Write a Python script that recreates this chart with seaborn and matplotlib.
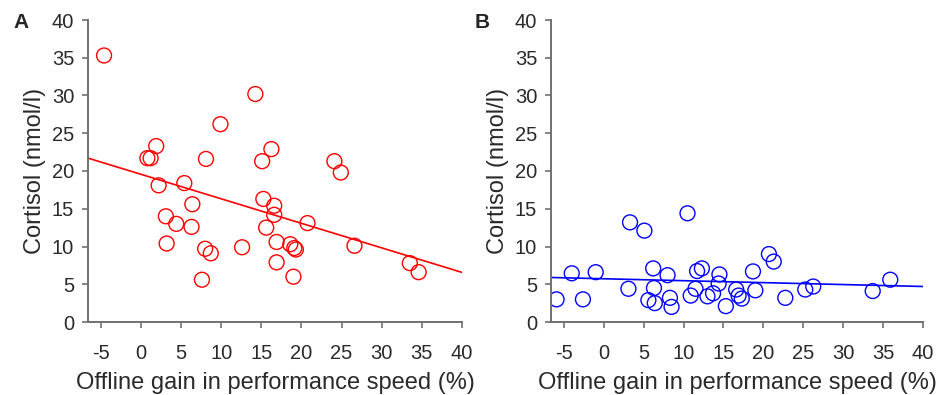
"""
Cortisol vs offline gain in performance speed, two panels (A red, B blue).
"""

import matplotlib
matplotlib.use('Agg')
import matplotlib.pyplot as plt
import numpy as np
import seaborn as sns

# Panel A values (offline gain %, cortisol nmol/l)
gain_a = [-4.6, 0.8, 1.2, 1.9, 2.2, 3.1, 3.2, 4.4, 5.4, 6.4, 6.3, 7.6,
          8.0, 8.1, 8.7, 9.9, 12.6, 14.25, 15.1, 15.25, 15.6, 16.25, 16.6, 16.6,
          16.9, 16.9, 18.6, 19.0, 19.1, 19.3, 20.75, 24.1, 24.9, 26.6, 33.5, 34.6]
cortisol_a = [35.3, 21.7, 21.7, 23.3, 18.1, 14.0, 10.4, 13.0, 18.4, 15.6, 12.6, 5.6,
              9.7, 21.6, 9.1, 26.2, 9.9, 30.2, 21.3, 16.3, 12.5, 22.9, 15.4, 14.2,
              10.6, 7.9, 10.3, 6.0, 9.8, 9.6, 13.1, 21.3, 19.8, 10.1, 7.8, 6.6]

# Panel B values
gain_b = [-5.9, -4.0, -2.6, -1.0, 3.1, 3.3, 5.1, 5.6, 6.2, 6.3, 6.4, 8.0,
          8.3, 8.5, 10.5, 10.9, 11.5, 11.7, 12.3, 13.0, 13.7, 14.4, 14.5, 15.3,
          16.6, 16.9, 17.3, 18.7, 19.0, 20.7, 21.3, 22.75, 25.25, 26.25, 33.7, 35.9]
cortisol_b = [3.0, 6.45, 3.0, 6.6, 4.4, 13.2, 12.1, 2.9, 7.1, 4.5, 2.5, 6.2,
              3.2, 2.0, 14.4, 3.5, 4.4, 6.75, 7.1, 3.4, 3.8, 5.1, 6.3, 2.1,
              4.3, 3.5, 3.1, 6.7, 4.2, 9.0, 8.0, 3.2, 4.3, 4.7, 4.1, 5.6]

x_ticks = [-5, 0, 5, 10, 15, 20, 25, 30, 35, 40]
y_ticks = [0, 5, 10, 15, 20, 25, 30, 35, 40]

sns.set_style('white')
plt.rcParams['font.family'] = ['Liberation Sans', 'DejaVu Sans']

fig = plt.figure(figsize=(9.38, 3.95), dpi=100)
ax_a = fig.add_axes([88 / 938, 73 / 395, 374 / 938, 302 / 395])
ax_b = fig.add_axes([551 / 938, 73 / 395, 372 / 938, 302 / 395])

panels = [
    (ax_a, gain_a, cortisol_a, '#ff0000', 'A', 13),
    (ax_b, gain_b, cortisol_b, '#0000ff', 'B', 475),
]

for ax, x, y, color, letter, letter_x in panels:
    ax.set_xlim(-6.6, 40)
    ax.set_ylim(0, 40)
    sns.regplot(
        x=np.array(x), y=np.array(y), ax=ax, ci=None, truncate=False,
        color=color,
        scatter_kws={'facecolors': 'none', 'edgecolors': color, 's': 115,
                     'linewidths': 1.0, 'alpha': 1},
        line_kws={'linewidth': 1.2},
    )
    ax.set_xlim(-6.6, 40)
    ax.set_ylim(0, 40)
    ax.set_xticks(x_ticks)
    ax.set_yticks(y_ticks)
    ax.set_xticklabels([str(t) for t in x_ticks])
    ax.tick_params(axis='both', labelsize=14.5, colors='#2a2a2a',
                   direction='out', length=4, width=1.2,
                   bottom=True, left=True)
    ax.tick_params(axis='x', pad=12)
    ax.tick_params(axis='y', pad=6)
    ax.tick_params(axis='both', color='#707070')
    for side in ['top', 'right']:
        ax.spines[side].set_visible(False)
    for side in ['left', 'bottom']:
        ax.spines[side].set_color('#707070')
        ax.spines[side].set_linewidth(1.4)
    ax.set_xlabel('Offline gain in performance speed (%)', fontsize=17,
                  color='#2a2a2a', labelpad=6)
    ax.set_ylabel('Cortisol (nmol/l)', fontsize=17, color='#2a2a2a',
                  labelpad=4)
    fig.text(letter_x / 938, 1 - 23 / 395, letter, fontsize=15,
             fontweight='bold', va='center', ha='left')

fig.savefig('out.png', dpi=100)
